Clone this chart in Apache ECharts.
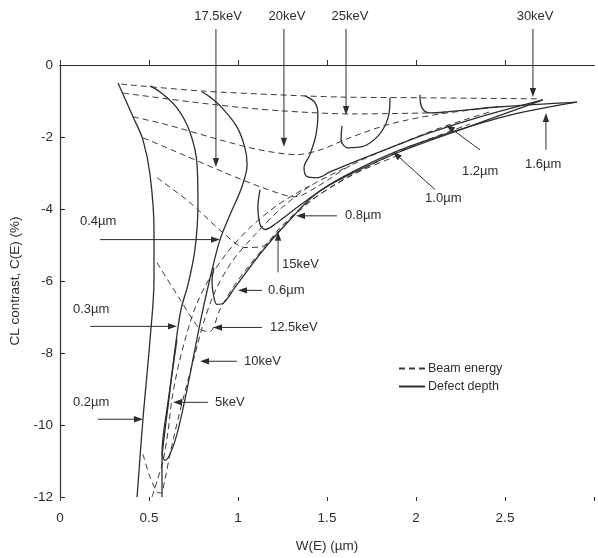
<!DOCTYPE html>
<html>
<head>
<meta charset="utf-8">
<script src="https://cdn.jsdelivr.net/npm/echarts@6/dist/echarts.min.js"></script>
<style>
html,body{margin:0;padding:0;background:#fff}
#chart{width:598px;height:558px}
</style>
</head>
<body>
<div id="chart"></div>
<script>
// Axis ticks
const xTicks = [0, 0.5, 1, 1.5, 2, 2.5, 3];
const yTicks = [0, -2, -4, -6, -8, -10, -12];

// Defect-depth curves, points as [W(E) in µm, C(E) in %]
const depth02 = [[0.326,-0.50],[0.343,-0.69],[0.410,-1.44],[0.466,-2.08],[0.506,-3.05],[0.528,-4.57],[0.528,-5.96],[0.506,-7.62],[0.466,-9.84],[0.433,-12.0]];
const depth03 = [[0.506,-0.58],[0.562,-0.75],[0.657,-1.19],[0.730,-1.86],[0.770,-2.77],[0.775,-3.88],[0.758,-5.13],[0.719,-6.10],[0.680,-6.79],[0.646,-7.90],[0.612,-9.28],[0.584,-10.39],[0.573,-11.00],[0.573,-12.0]];
const depth04 = [[0.798,-0.75],[0.843,-0.89],[0.910,-1.19],[0.994,-1.72],[1.039,-2.30],[1.051,-2.77],[1.022,-3.38],[0.955,-4.16],[0.899,-4.85],[0.848,-5.82],[0.803,-6.79],[0.758,-7.90],[0.708,-9.15],[0.657,-10.26],[0.618,-10.81],[0.590,-10.98],[0.573,-10.81],[0.579,-10.34],[0.601,-9.56],[0.629,-8.59],[0.657,-7.62]];
const depth06 = [[0.865,-5.63],[0.854,-6.01],[0.860,-6.32],[0.882,-6.65],[0.921,-6.60],[0.983,-6.18],[1.135,-5.18],[1.292,-4.30],[1.433,-3.60],[1.601,-3.08],[1.871,-2.44],[2.191,-1.88],[2.528,-1.39],[2.904,-1.03]];
const depth08 = [[1.124,-3.46],[1.112,-3.94],[1.124,-4.43],[1.152,-4.57],[1.219,-4.38],[1.337,-3.94],[1.489,-3.41],[1.657,-2.97],[1.910,-2.41],[2.247,-1.80],[2.713,-0.97]];
const depth10 = [[1.376,-0.86],[1.433,-1.05],[1.449,-1.39],[1.438,-1.94],[1.404,-2.49],[1.371,-2.85],[1.388,-3.10],[1.444,-3.13],[1.517,-2.97],[1.685,-2.63],[1.871,-2.27],[2.079,-1.88],[2.360,-1.44],[2.713,-0.97]];
const depth12 = [[1.854,-0.91],[1.843,-1.47],[1.787,-1.97],[1.697,-2.27],[1.618,-2.30],[1.579,-2.08],[1.584,-1.69]];
const depth16 = [[2.022,-0.83],[2.034,-1.19],[2.079,-1.33],[2.174,-1.30],[2.472,-1.16],[2.904,-1.03]];

// Beam-energy curves, points as [W(E) in µm, C(E) in %]
const energy30 = [[0.343,-0.53],[0.787,-0.72],[1.236,-0.83],[1.573,-0.89],[2.022,-0.91],[2.697,-0.94]];
const energy25 = [[0.354,-0.78],[0.882,-1.11],[1.236,-1.27],[1.646,-1.36],[2.079,-1.33]];
const energy20 = [[0.410,-1.44],[0.601,-1.66],[0.899,-2.08],[1.124,-2.36],[1.331,-2.49],[1.461,-2.36],[1.629,-2.02],[1.854,-1.64],[2.135,-1.36],[2.472,-1.16]];
const energy175 = [[0.466,-2.02],[0.691,-2.49],[0.916,-2.97],[1.140,-3.41],[1.320,-3.66],[1.461,-3.33],[1.629,-2.80],[1.854,-2.30],[2.135,-1.75],[2.416,-1.30]];
const energy15 = [[0.545,-3.13],[0.730,-3.82],[0.916,-4.66],[1.039,-5.07],[1.135,-5.04],[1.236,-4.52],[1.376,-3.88],[1.545,-3.33],[1.770,-2.72],[2.022,-2.16],[2.303,-1.64]];
const energy125 = [[0.545,-5.49],[0.674,-6.51],[0.787,-7.34],[0.843,-7.40],[0.899,-6.79],[0.983,-6.10],[1.112,-5.27],[1.264,-4.43],[1.433,-3.69],[1.629,-3.08],[1.910,-2.49]];
const energy10 = [[0.466,-10.81],[0.506,-11.45],[0.545,-11.86],[0.567,-11.89],[0.590,-11.50],[0.618,-10.81],[0.663,-9.84],[0.713,-8.87],[0.758,-8.04],[0.809,-7.12],[0.871,-6.29],[0.966,-5.46],[1.096,-4.71],[1.247,-3.96],[1.416,-3.33],[1.629,-2.80]];
const energy5 = [[0.517,-12.0],[0.545,-11.56],[0.579,-11.00],[0.607,-10.17],[0.629,-9.28],[0.663,-8.40],[0.708,-7.54],[0.764,-6.68],[0.843,-5.90],[0.944,-5.18],[1.067,-4.52],[1.225,-3.88],[1.404,-3.35]];

// Callout labels with arrows (tail, head, text anchor) in axis units
const callouts = [
  {text:'17.5keV', from:[0.876,1.00], to:[0.876,-2.83], at:[0.888,1.36], align:'center'},
  {text:'20keV',   from:[1.258,1.00], to:[1.258,-2.27], at:[1.275,1.36], align:'center'},
  {text:'25keV',   from:[1.607,1.00], to:[1.607,-1.39], at:[1.629,1.36], align:'center'},
  {text:'30keV',   from:[2.657,1.00], to:[2.657,-0.89], at:[2.669,1.36], align:'center'},
  {text:'1.6µm',   from:[2.730,-2.36], to:[2.730,-1.33], at:[2.612,-2.77], align:'left'},
  {text:'1.2µm',   from:[2.360,-2.36], to:[2.169,-1.66], at:[2.258,-2.97], align:'left'},
  {text:'1.0µm',   from:[2.107,-3.46], to:[1.871,-2.41], at:[2.051,-3.71], align:'left'},
  {text:'0.8µm',   from:[1.556,-4.19], to:[1.326,-4.19], at:[1.601,-4.19], align:'left'},
  {text:'15keV',   from:[1.225,-5.76], to:[1.225,-4.63], at:[1.247,-5.55], align:'left'},
  {text:'0.6µm',   from:[1.135,-6.26], to:[1.000,-6.26], at:[1.169,-6.26], align:'left'},
  {text:'12.5keV', from:[1.135,-7.29], to:[0.860,-7.29], at:[1.180,-7.29], align:'left'},
  {text:'10keV',   from:[0.994,-8.23], to:[0.787,-8.23], at:[1.034,-8.23], align:'left'},
  {text:'5keV',    from:[0.831,-9.37], to:[0.635,-9.37], at:[0.871,-9.37], align:'left'},
  {text:'0.4µm',   from:[0.225,-4.85], to:[0.899,-4.85], at:[0.112,-4.35], align:'left'},
  {text:'0.3µm',   from:[0.169,-7.26], to:[0.657,-7.26], at:[0.073,-6.79], align:'left'},
  {text:'0.2µm',   from:[0.213,-9.84], to:[0.466,-9.84], at:[0.073,-9.37], align:'left'}
];

const FONT = '"Liberation Sans", Arial, Helvetica, sans-serif';
const INK = '#2e2e2e';

const depthCurves = [depth02, depth03, depth04, depth06, depth08, depth10, depth12, depth16];
const energyCurves = [energy30, energy25, energy20, energy175, energy15, energy125, energy10, energy5];

function solid(d) {
  return {type:'line', name:'Defect depth', data:d, symbol:'none', smooth:0.35,
    lineStyle:{color:INK, width:1.3}, itemStyle:{color:INK}, silent:true};
}
function dashed(d) {
  return {type:'line', name:'Beam energy', data:d, symbol:'none', smooth:0.3,
    lineStyle:{color:'#3a3a3a', width:1, type:[6,4]}, itemStyle:{color:'#3a3a3a'}, silent:true};
}

function renderCallout(params, api) {
  const c = callouts[params.dataIndex];
  const p1 = api.coord(c.from), p2 = api.coord(c.to);
  const dx = p2[0]-p1[0], dy = p2[1]-p1[1];
  const len = Math.hypot(dx, dy) || 1;
  const ux = dx/len, uy = dy/len;
  const hl = 9, hw = 3.2;
  const bx = p2[0]-ux*hl, by = p2[1]-uy*hl;
  const t = api.coord(c.at);
  return {type:'group', children:[
    {type:'line', shape:{x1:p1[0], y1:p1[1], x2:bx, y2:by}, style:{stroke:INK, lineWidth:1}},
    {type:'polygon', shape:{points:[[p2[0],p2[1]],[bx-uy*hw,by+ux*hw],[bx+uy*hw,by-ux*hw]]}, style:{fill:INK}},
    {type:'text', x:t[0], y:t[1], style:{text:c.text, fill:INK, font:'13px ' + FONT, align:c.align, verticalAlign:'middle'}}
  ]};
}

const chart = echarts.init(document.getElementById('chart'), null, {renderer:'canvas'});
const xMin = xTicks[0], xMax = xTicks[xTicks.length-1];
const yMin = yTicks[yTicks.length-1], yMax = yTicks[0];

chart.setOption({
  animation:false,
  backgroundColor:'#fff',
  grid:{left:60, right:4, top:65, bottom:60},
  legend:{
    data:['Beam energy','Defect depth'], left:393, top:357, orient:'vertical',
    itemGap:5, itemWidth:26, itemHeight:10, selectedMode:false,
    itemStyle:{opacity:0},
    textStyle:{fontSize:12.5, color:INK, fontFamily:FONT, padding:[0,0,0,-2]}
  },
  xAxis:[
    {type:'value', position:'bottom', min:xMin, max:xMax, interval:0.5,
     name:'W(E) (µm)', nameLocation:'middle', nameGap:42,
     nameTextStyle:{fontSize:13.5, color:INK, fontFamily:FONT},
     axisLine:{lineStyle:{color:INK, width:1.2}},
     axisTick:{inside:true, length:5, lineStyle:{color:INK}},
     axisLabel:{margin:14, fontSize:13.5, color:INK, fontFamily:FONT, showMaxLabel:false},
     splitLine:{show:false}},
    {type:'value', position:'top', min:xMin, max:xMax, interval:0.5,
     axisLine:{lineStyle:{color:INK, width:1.2}}, axisTick:{show:false}, axisLabel:{show:false}, splitLine:{show:false}},
    {type:'value', position:'bottom', min:xMin, max:xMax, interval:0.5,
     axisLine:{show:false}, axisTick:{inside:false, length:4, lineStyle:{color:INK}}, axisLabel:{show:false}, splitLine:{show:false}}
  ],
  yAxis:{
    type:'value', min:yMin, max:yMax, interval:2,
    name:'CL contrast, C(E) (%)', nameLocation:'middle', nameGap:38,
    nameTextStyle:{fontSize:13.5, color:INK, fontFamily:FONT},
    axisLine:{show:true, lineStyle:{color:INK, width:1.2}},
    axisTick:{show:true, inside:true, length:5, lineStyle:{color:INK}},
    axisLabel:{margin:7, fontSize:13.5, color:INK, fontFamily:FONT},
    splitLine:{show:false}
  },
  series:[
    ...energyCurves.map(dashed),
    ...depthCurves.map(solid),
    {type:'custom', coordinateSystem:'cartesian2d', clip:false, silent:true,
     data:callouts.map(c => c.to), renderItem:renderCallout, z:5}
  ]
});
</script>
</body>
</html>
